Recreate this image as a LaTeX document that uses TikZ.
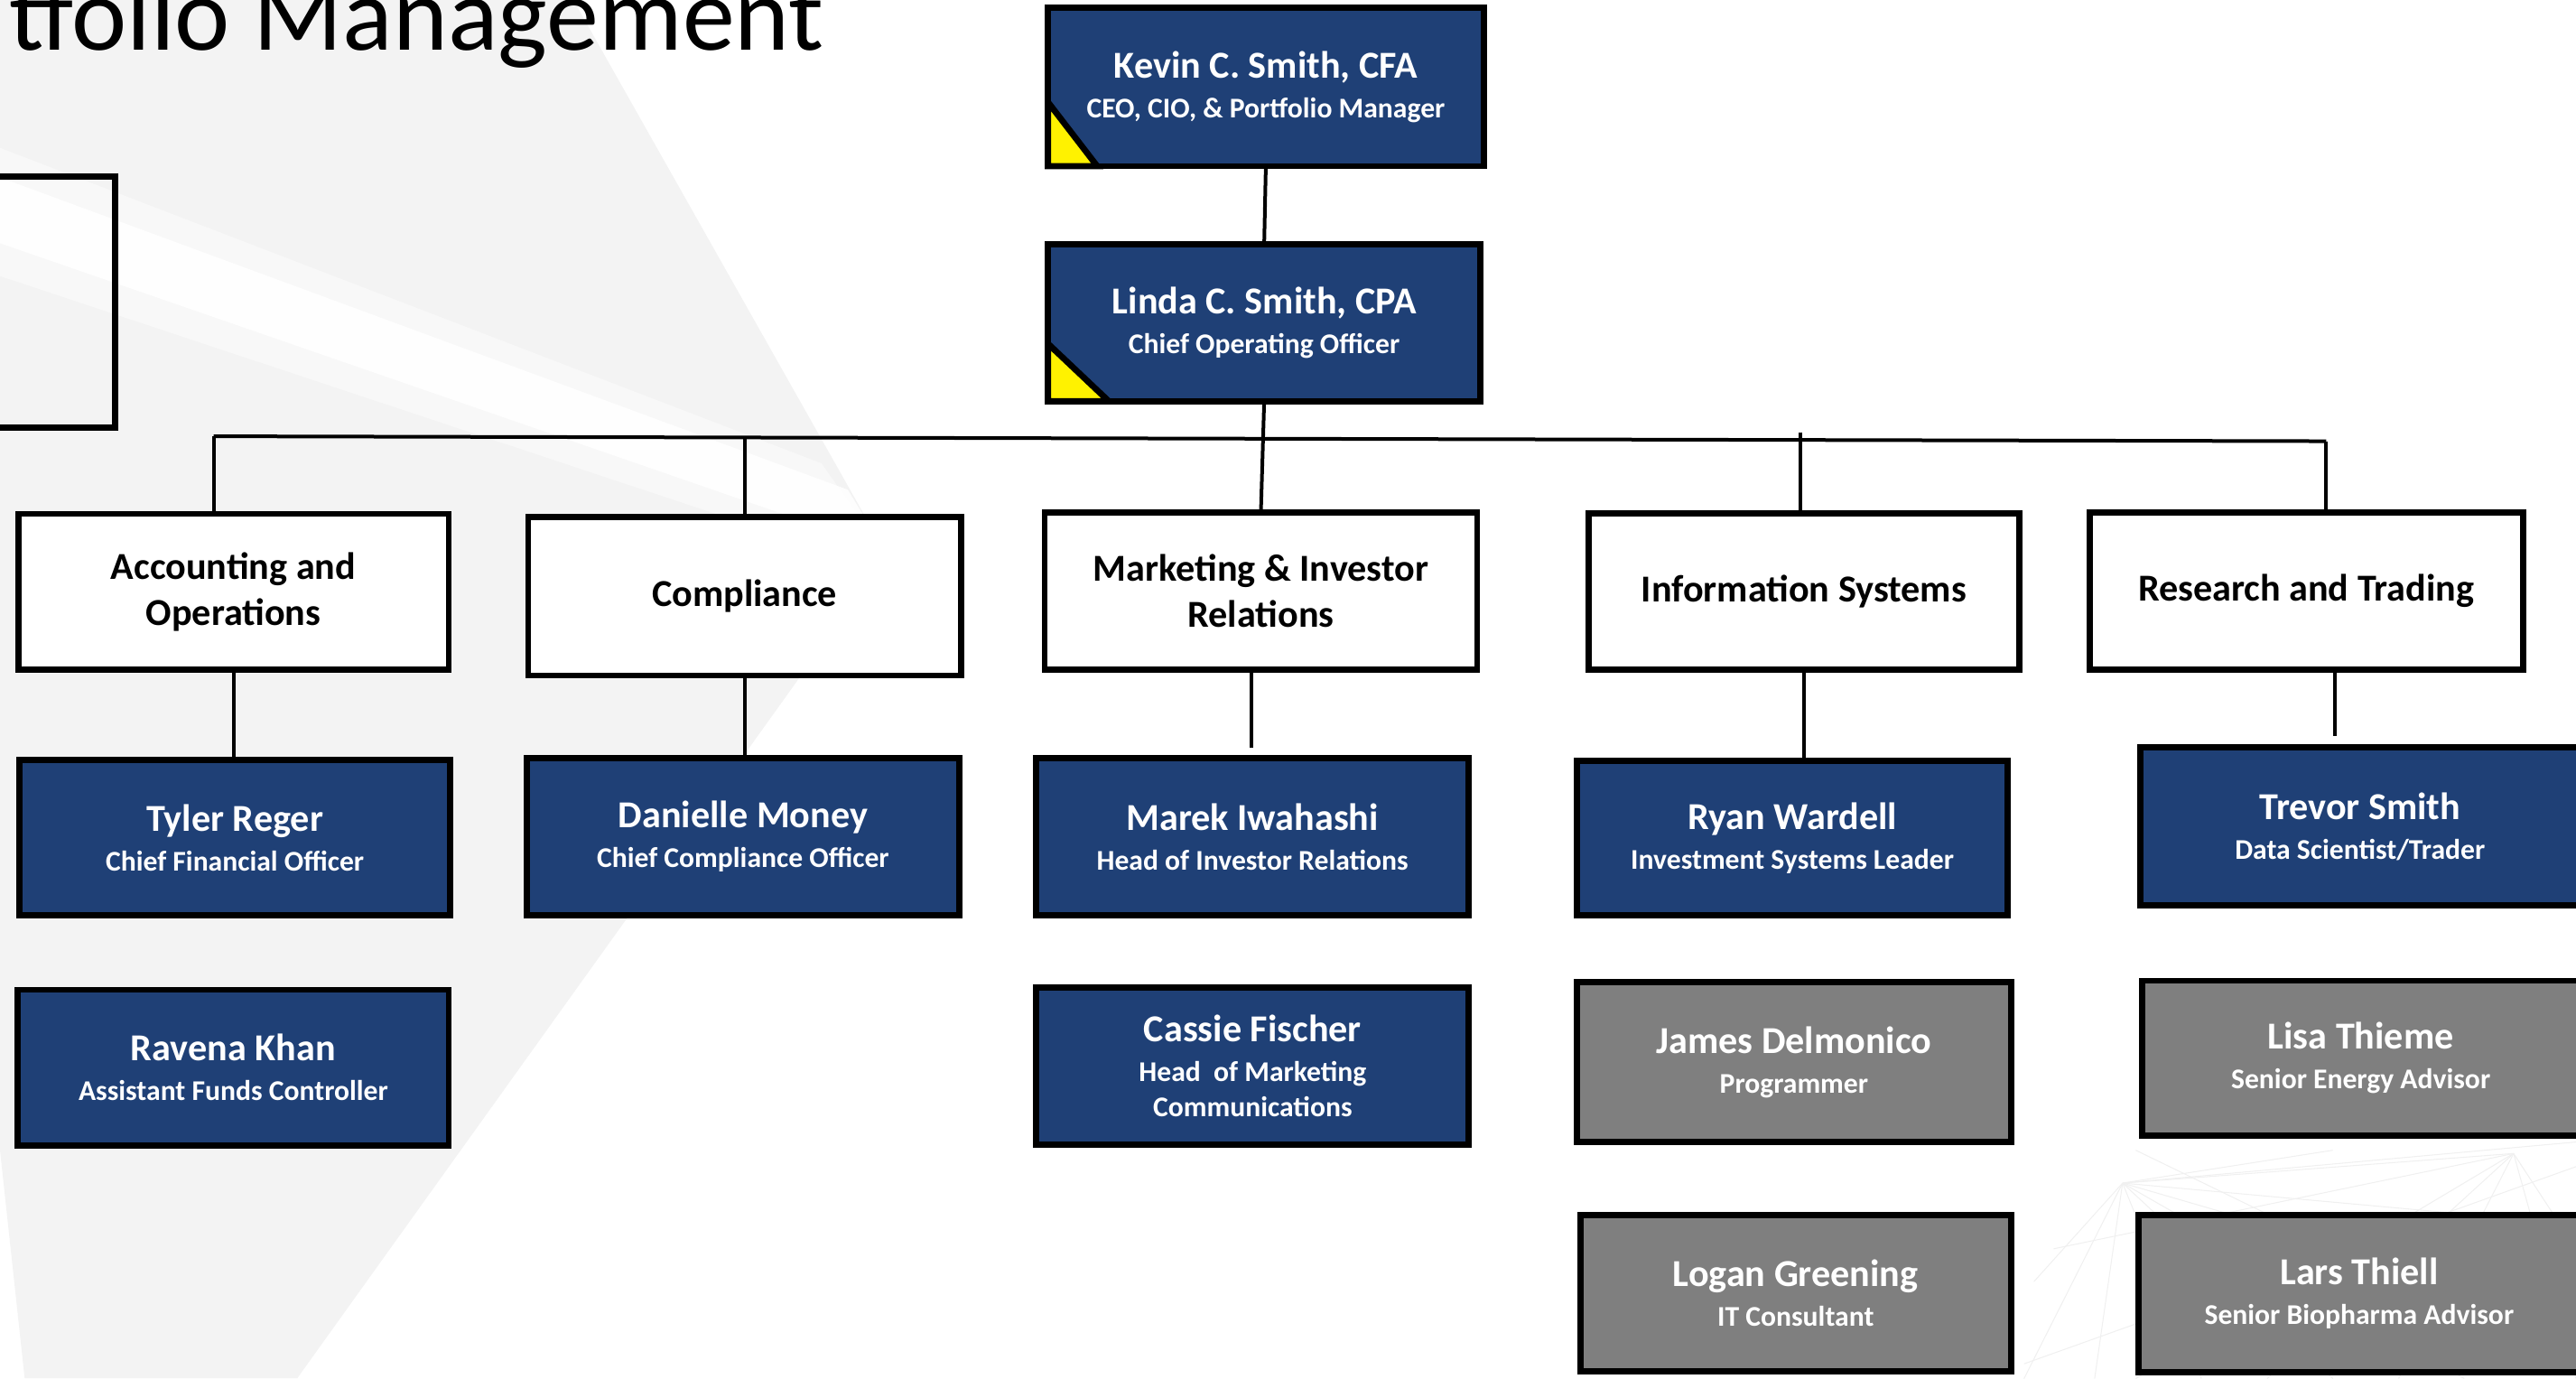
\documentclass[tikz,border=0pt]{standalone}
\usepackage{fontspec}
\setmainfont{Carlito}
\usetikzlibrary{calc}
\definecolor{navy}{HTML}{1F4076}
\definecolor{boxgray}{HTML}{7F7F7F}
\definecolor{bggray}{HTML}{F3F3F3}
\def\U{0.18195mm}
% name, style, x1, y1, x2, y2, text
\newcommand{\orgbox}[7]{%
  \node[#2, minimum width={(#5-#3-3.74)*\U}, minimum height={(#6-#4-3.74)*\U}]
    (#1) at ({(#3+#5)/2},{(#4+#6)/2}) {#7};}
\newcommand{\pn}[2]{{\fontsize{12}{14}\selectfont #1}\\[1.3pt]{#2}}
\newcommand{\pnn}[3]{{\fontsize{12}{14}\selectfont #1}\\[1.3pt]{#2}\\{#3}}
\begin{document}
\begin{tikzpicture}[x=0.18195mm, y=-0.18195mm,
  common/.style={draw=black, line width=0.68mm, inner sep=0pt, outer sep=0pt, align=center},
  dept/.style={common, fill=white, text=black, font=\fontsize{12}{14.5}\selectfont\bfseries},
  person/.style={common, fill=navy, text=white, font=\fontsize{9}{11.2}\selectfont\bfseries},
  staff/.style={common, fill=boxgray, text=white, font=\fontsize{9}{11.2}\selectfont\bfseries},
  plain/.style={common, fill=none},
  link/.style={line width=0.4mm, draw=black},
  tri/.style={fill=yellow, draw=black, line width=0.68mm, line join=miter},
  net/.style={draw=black!6, line width=0.3pt}]
\useasboundingbox (0,0) rectangle (1568,838.7);
\clip (0,0) rectangle (1568,838.7);
% background
\fill[bggray] (0,0) -- (349,0) -- (540,338) -- (181,838.7) -- (15,838.7) -- (0,700) -- cycle;
\fill[white, opacity=0.45] (0,90) -- (500,282) -- (548,350) -- (0,168) -- cycle;
\fill[white, opacity=0.9] (0,108) -- (516,298) -- (538,334) -- (0,148) -- cycle;
% faint network bottom right
\coordinate (h1) at (1292,720);
\coordinate (h2) at (1530,702);
\foreach \p in {(1568,695),(1568,745),(1568,800),(1500,839),(1420,839),(1340,839),(1275,839),(1232,839),(1238,780),(1420,700),(1530,702)}
  \draw[net] (h1) -- \p;
\foreach \p in {(1568,839),(1300,839),(1380,839),(1460,839),(1250,760),(1568,760)}
  \draw[net] (h2) -- \p;
\draw[net] (1232,830) -- (1568,710);
\draw[net] (1300,700) -- (1568,830);
% title
\node[anchor=base east, inner sep=0pt, font=\fontsize{33}{33}\selectfont] (title) at (502,30.5) {tfolio Management};
% boxes
\orgbox{left}{plain}{-20}{105.7}{71.8}{262}{}
\orgbox{kevin}{person}{636}{3}{905}{103}{\pn{Kevin C. Smith, CFA}{CEO, CIO, \& Portfolio Manager}}
\orgbox{linda}{person}{636}{147}{903}{246}{\pn{Linda C. Smith, CPA}{Chief Operating Officer}}
\draw[tri] ($(kevin.south west)+(0,-39)$) -- ($(kevin.south west)+(30,0)$) -- (kevin.south west) -- cycle;
\draw[tri] ($(linda.south west)+(0,-35)$) -- ($(linda.south west)+(37,0)$) -- (linda.south west) -- cycle;
\orgbox{acc}{dept}{9.2}{310.8}{275}{409.5}{Accounting and\\Operations}
\orgbox{comp}{dept}{319.6}{312.9}{586.8}{413}{Compliance}
\orgbox{mkt}{dept}{634}{310}{901}{409.5}{Marketing \& Investor\\Relations}
\orgbox{info}{dept}{965}{310.5}{1231}{409.5}{Information Systems}
\orgbox{res}{dept}{1270}{310}{1537.6}{409.6}{Research and Trading}
\orgbox{tyler}{person}{10}{460.6}{276}{559}{\pn{Tyler Reger}{Chief Financial Officer}}
\orgbox{ravena}{person}{9}{600.5}{275}{699}{\pn{Ravena Khan}{Assistant Funds Controller}}
\orgbox{danielle}{person}{318.6}{459.6}{586}{558.7}{\pn{Danielle Money}{Chief Compliance Officer}}
\orgbox{marek}{person}{628.7}{459.6}{896}{558.7}{\pn{Marek Iwahashi}{Head of Investor Relations}}
\orgbox{cassie}{person}{629}{599}{896}{698.5}{\pnn{Cassie Fischer}{Head\ \ of Marketing}{Communications}}
\orgbox{ryan}{person}{958}{461}{1224}{559}{\pn{Ryan Wardell}{Investment Systems Leader}}
\orgbox{james}{staff}{958}{596}{1226}{697}{\pn{James Delmonico}{Programmer}}
\orgbox{logan}{staff}{960}{737.6}{1226}{836.5}{\pn{Logan Greening}{IT Consultant}}
\orgbox{trevor}{person}{1301}{453}{1572}{553}{\pn{Trevor Smith}{Data Scientist/Trader}}
\orgbox{lisa}{staff}{1302}{595}{1572}{693}{\pn{Lisa Thieme}{Senior Energy Advisor}}
\orgbox{lars}{staff}{1300}{737.6}{1572}{837}{\pn{Lars Thiell}{Senior Biopharma Advisor}}
% connectors
\coordinate (busL) at (130,265.5);
\coordinate (busR) at (1416,268.5);
\coordinate (busI) at (1096,263);
\coordinate (mkEnd) at (762,455);
\coordinate (trEnd) at (1421,448);
\draw[link] (kevin.south) -- (linda.north);
\draw[link] (linda.south) -- (mkt.north);
\draw[link] (busL) -- (busR);
\draw[link] (busL) -- (busL |- acc.north);
\draw[link] (comp.north |- busL) -- (comp.north);
\draw[link] (busI) -- (busI |- info.north);
\draw[link] (busR) -- (busR |- res.north);
\draw[link] (acc.south) -- (acc.south |- tyler.north);
\draw[link] (comp.south) -- (comp.south |- danielle.north);
\draw[link] (mkEnd |- mkt.south) -- (mkEnd);
\draw[link] (info.south) -- (info.south |- ryan.north);
\draw[link] (trEnd |- res.south) -- (trEnd);
\end{tikzpicture}
\end{document}
